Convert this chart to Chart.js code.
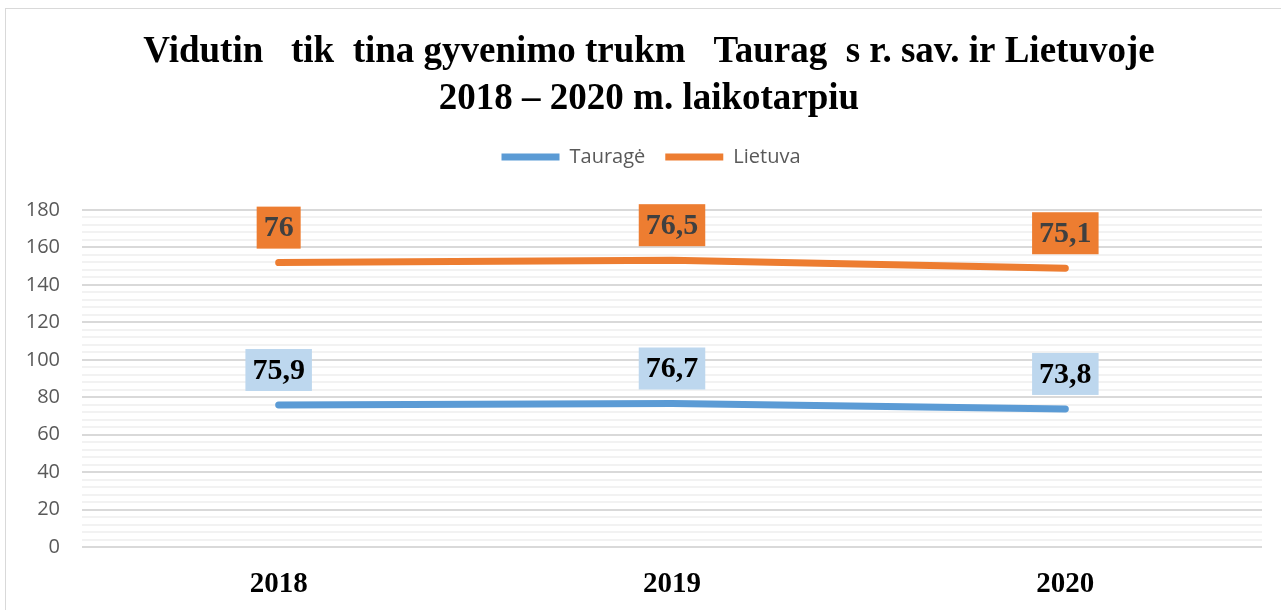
<!DOCTYPE html>
<html>
<head>
<meta charset="utf-8">
<script src="https://cdn.jsdelivr.net/npm/chart.js@4"></script>
<style>
  html, body { margin: 0; padding: 0; background: #fff; overflow: hidden; }
  .frame { position: absolute; left: 5px; top: 8px; width: 1290px; height: 640px; border: 1px solid #d9d9d9; }
  #chart { display: block; }
</style>
</head>
<body>
<div class="frame"><canvas id="chart" width="1275" height="605"></canvas></div>
<script>
// duomenys
const years = ['2018', '2019', '2020'];
const taurage = [75.9, 76.7, 73.8];
const lietuva = [76, 76.5, 75.1];
const titleLines = ['Vidutin   tik  tina gyvenimo trukm   Taurag  s r. sav. ir Lietuvoje', '2018 – 2020 m. laikotarpiu'];

// reikšmių etiketės su fonu
const valueLabels = {
    id: 'valueLabels',
    afterDatasetsDraw(chart) {
        const c = chart.ctx;
        chart.data.datasets.forEach(function(ds, i) {
            const meta = chart.getDatasetMeta(i);
            meta.data.forEach(function(pt, j) {
                const txt = String(ds.data[j]).replace('.', ',');
                c.save();
                c.font = 'bold 30px "Liberation Serif"';
                const w = c.measureText(txt).width + 14;
                const h = 42;
                const cx = pt.x, cy = pt.y - 35;
                c.fillStyle = ds.labelBg;
                c.fillRect(cx - w / 2, cy - h / 2, w, h);
                c.fillStyle = ds.labelColor;
                c.textAlign = 'center';
                c.textBaseline = 'middle';
                c.fillText(txt, cx, cy + 1);
                c.restore();
            });
        });
    }
};

// tarpas po legenda, pavadinimo ir legendos poslinkis
const legendGap = {
    id: 'legendGap',
    beforeInit(chart) {
        const fit = chart.legend.fit;
        chart.legend.fit = function() {
            fit.bind(chart.legend)();
            this.height += 33;
        };
    },
    afterLayout(chart) {
        chart.titleBlock.left += 14;
        chart.legend.left += 18;
    }
};

new Chart(document.getElementById('chart'), {
    type: 'line',
    data: {
        labels: years,
        datasets: [{
            label: 'Tauragė',
            data: taurage,
            borderColor: '#5b9bd5',
            backgroundColor: '#5b9bd5',
            borderWidth: 7,
            borderCapStyle: 'round',
            pointRadius: 0,
            tension: 0,
            labelBg: '#bdd7ee',
            labelColor: '#000'
        }, {
            label: 'Lietuva',
            data: lietuva,
            borderColor: '#ed7d31',
            backgroundColor: '#ed7d31',
            borderWidth: 7,
            borderCapStyle: 'round',
            pointRadius: 0,
            tension: 0,
            labelBg: '#ed7d31',
            labelColor: '#404040'
        }]
    },
    options: {
        responsive: false,
        maintainAspectRatio: false,
        animation: false,
        layout: { padding: { left: 16, right: 19, top: 20, bottom: 0 } },
        plugins: {
            title: {
                display: true,
                text: titleLines,
                color: '#000',
                font: { family: 'Liberation Serif', size: 37, weight: 'bold', lineHeight: 1.27 },
                padding: { top: 0, bottom: 4 }
            },
            legend: {
                labels: {
                    usePointStyle: true,
                    pointStyle: 'line',
                    pointStyleWidth: 58,
                    color: '#595959',
                    font: { family: 'Open Sans', size: 20 },
                    padding: 20
                }
            },
            tooltip: { enabled: false }
        },
        scales: {
            x: {
                offset: true,
                grid: { display: false },
                border: { display: false },
                ticks: { color: '#000', font: { family: 'Liberation Serif', size: 29, weight: 'bold' }, padding: 12 }
            },
            y: {
                stacked: true,
                min: 0,
                max: 180,
                border: { display: false },
                afterFit: function(scale) { scale.width = 60; },
                grid: {
                    drawTicks: false,
                    lineWidth: 2,
                    color: function(ctx) { return ctx.tick && ctx.tick.value % 20 === 0 ? '#d9d9d9' : '#f2f2f2'; }
                },
                ticks: {
                    stepSize: 4,
                    autoSkip: false,
                    padding: 22,
                    color: '#595959',
                    font: { family: 'Open Sans', size: 20 },
                    callback: function(v) { return v % 20 === 0 ? v : ''; }
                }
            }
        }
    },
    plugins: [valueLabels, legendGap]
});
</script>
</body>
</html>
